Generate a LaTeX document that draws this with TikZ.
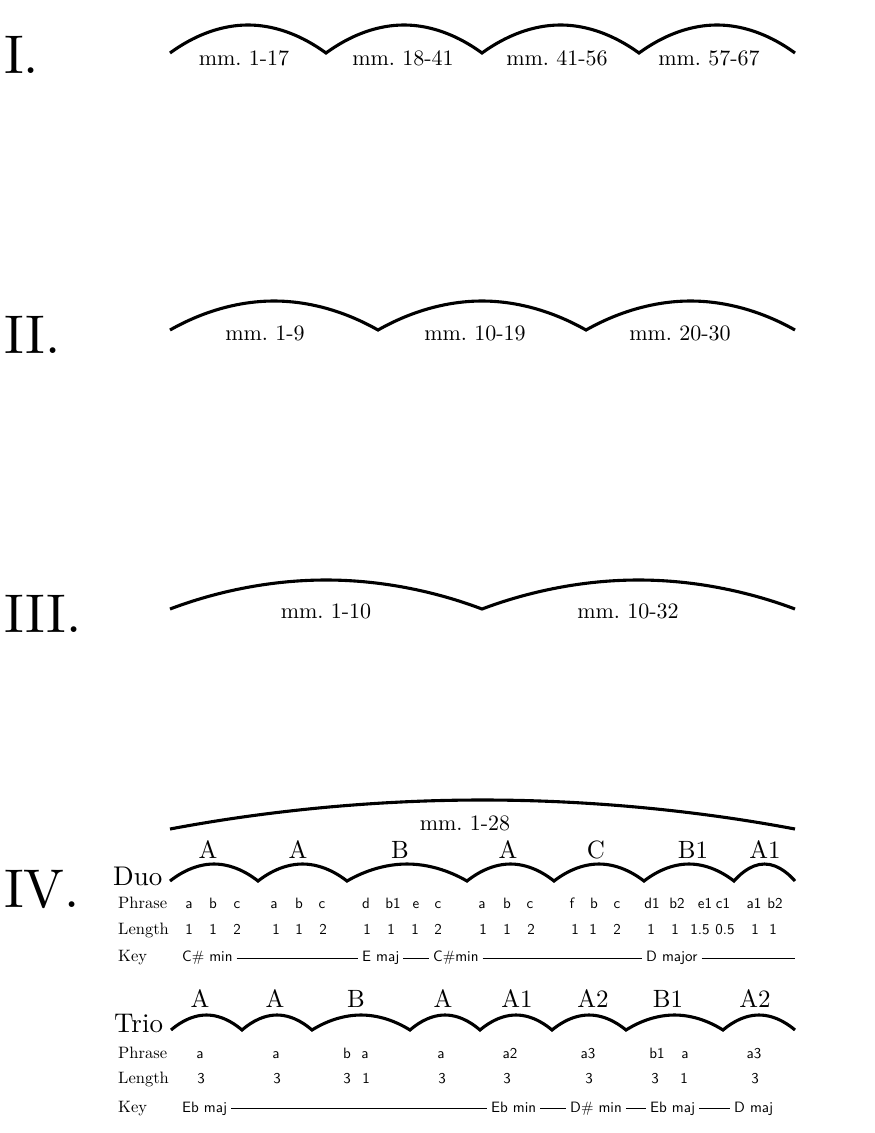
\documentclass[tikz,border=0pt]{standalone}
\usepackage{fontspec}
\setmainfont{lmroman10-regular.otf}
\setsansfont{lmsans10-regular.otf}
\begin{document}
\frenchspacing
\begin{tikzpicture}[x=1pt,y=-1pt,
  hump/.style={line width=3.1pt},
  keyline/.style={line width=0.9pt, shorten <=4pt, shorten >=4pt},
  num/.style={font=\fontsize{54.5}{60}\selectfont, inner sep=0, anchor=base west},
  mmlab/.style={font=\fontsize{22}{26}\selectfont, inner sep=0, anchor=base},
  sect/.style={font=\fontsize{25}{30}\selectfont, inner sep=0, anchor=base},
  ens/.style={font=\fontsize{27}{32}\selectfont, inner sep=0, anchor=base west},
  rowlab/.style={font=\fontsize{16.5}{20}\selectfont, inner sep=0, anchor=base west},
  sf/.style={font=\sffamily\fontsize{15}{18}\selectfont, inner sep=0, anchor=base},
  keyt/.style={font=\sffamily\fontsize{15}{18}\selectfont, inner sep=0, anchor=base west}]
\useasboundingbox (0,0) rectangle (875,1133);

% ---------- I ----------
\node[num] (n1) at (4,73) {I.};
\draw[hump] (170,53) \foreach \a/\b in {170/326,326/482,482/639,639/795}{ parabola bend ({(\a+\b)/2},25) (\b,53)};
\node[mmlab] (r1a) at (244,65) {mm. 1-17};
\node[mmlab] (r1b) at (403,65) {mm. 18-41};
\node[mmlab] (r1c) at (557,65) {mm. 41-56};
\node[mmlab] (r1d) at (709,65) {mm. 57-67};

% ---------- II ----------
\node[num] (n2) at (4,353) {II.};
\draw[hump] (170,330) \foreach \a/\b in {170/378,378/586,586/795}{ parabola bend ({(\a+\b)/2},301) (\b,330)};
\node[mmlab] (r2a) at (265,340) {mm. 1-9};
\node[mmlab] (r2b) at (475,340) {mm. 10-19};
\node[mmlab] (r2c) at (680,340) {mm. 20-30};

% ---------- III ----------
\node[num] (n3) at (4,632) {III.};
\draw[hump] (170,609) \foreach \a/\b in {170/482,482/795}{ parabola bend ({(\a+\b)/2},580) (\b,609)};
\node[mmlab] (r3a) at (326,618) {mm. 1-10};
\node[mmlab] (r3b) at (628,618) {mm. 10-32};

% ---------- IV ----------
\node[num] (n4) at (4,907) {IV.};
\draw[hump] (170,829) parabola bend (482.5,800) (795,829);
\node[mmlab] (r4a) at (465,830) {mm. 1-28};

% Duo
\node[ens] (duo) at (113,885) {Duo};
\draw[hump] (170,881) \foreach \a/\b in {170/258,258/347,347/467,467/554,554/644,644/734,734/795}{ parabola bend ({(\a+\b)/2},864) (\b,881)};
\foreach \x/\t [count=\i] in {208/A,298/A,400/B,508/A,596/C,693/B1,765/A1}
  \node[sect] (ds\i) at (\x,858) {\t};
\node[rowlab] (dph) at (118,908) {Phrase};
\node[rowlab] (dln) at (118,934) {Length};
\node[rowlab] (dky) at (118,961) {Key};
\foreach \x/\t [count=\i] in {189/a,213/b,237/c,274/a,299/b,322/c,366/d,393/b1,416/e,438/c,482/a,507/b,530/c,572/f,594/b,617/c,652/d1,677/b2,705/e1,723/c1,754/a1,775/b2}
  \node[sf] (dp\i) at (\x,908) {\t};
\foreach \x/\t [count=\i] in {189/1,213/1,237/2,276/1,299/1,323/2,367/1,391/1,415/1,438/2,483/1,507/1,531/2,575/1,593/1,617/2,651/1,675/1,700/1.5,725/0.5,755/1,773/1}
  \node[sf] (dl\i) at (\x,934) {\t};
\node[keyt] (dk1) at (182,961) {C\# min};
\node[keyt] (dk2) at (362,961) {E maj};
\node[keyt] (dk3) at (433,961) {C\#min};
\node[keyt] (dk4) at (646,961) {D major};
\coordinate (dkend) at (795,958);
\draw[keyline] ([yshift=3pt]dk1.base east) -- ([yshift=3pt]dk2.base west);
\draw[keyline] ([yshift=3pt]dk2.base east) -- ([yshift=3pt]dk3.base west);
\draw[keyline] ([yshift=3pt]dk3.base east) -- ([yshift=3pt]dk4.base west);
\draw[keyline, shorten >=0pt] ([yshift=3pt]dk4.base east) -- (dkend);

% Trio
\node[ens] (trio) at (114,1032) {Trio};
\draw[hump] (171,1030) \foreach \a/\b in {171/242,242/312,312/410,410/480,480/552,552/626,626/723,723/795}{ parabola bend ({(\a+\b)/2},1015) (\b,1030)};
\foreach \x/\t [count=\i] in {200/A,275/A,356/B,443/A,517/A1,593/A2,668/B1,755/A2}
  \node[sect] (ts\i) at (\x,1007) {\t};
\node[rowlab] (tph) at (118,1058) {Phrase};
\node[rowlab] (tln) at (118,1083) {Length};
\node[rowlab] (tky) at (118,1112) {Key};
\foreach \x/\t [count=\i] in {200/a,276/a,347/b,365/a,441/a,510/a2,588/a3,657/b1,685/a,754/a3}
  \node[sf] (tp\i) at (\x,1058) {\t};
\foreach \x/\t [count=\i] in {201/3,277/3,347/3,366/1,442/3,507/3,589/3,655/3,684/1,755/3}
  \node[sf] (tl\i) at (\x,1083) {\t};
\node[keyt] (tk1) at (182,1112) {Eb maj};
\node[keyt] (tk2) at (491,1112) {Eb min};
\node[keyt] (tk3) at (570,1112) {D\# min};
\node[keyt] (tk4) at (650,1112) {Eb maj};
\node[keyt] (tk5) at (734,1112) {D maj};
\draw[keyline] ([yshift=4pt]tk1.base east) -- ([yshift=4pt]tk2.base west);
\draw[keyline] ([yshift=4pt]tk2.base east) -- ([yshift=4pt]tk3.base west);
\draw[keyline] ([yshift=4pt]tk3.base east) -- ([yshift=4pt]tk4.base west);
\draw[keyline] ([yshift=4pt]tk4.base east) -- ([yshift=4pt]tk5.base west);
\end{tikzpicture}
\end{document}
